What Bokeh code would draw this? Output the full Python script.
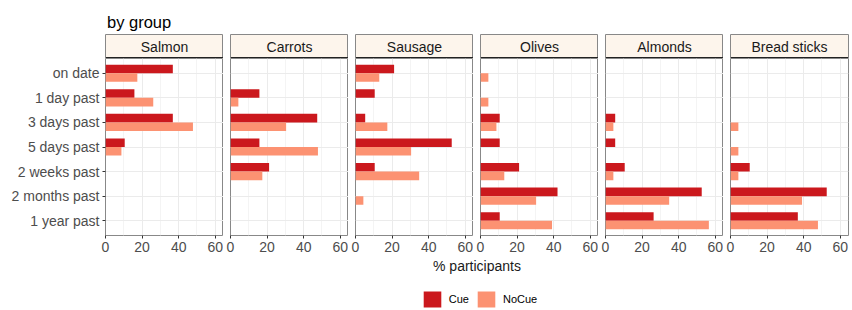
from bokeh.plotting import figure
from bokeh.models import (ColumnDataSource, Range1d, FactorRange, FixedTicker,
                          Span, Legend, LegendItem)
from bokeh.layouts import column, row
from bokeh.transform import dodge
from bokeh.core.properties import value
from bokeh.embed import file_html
from bokeh.resources import INLINE

# ---------------- data ----------------
title_text = "by group"
x_label = "% participants"
timings = ["on date", "1 day past", "3 days past", "5 days past",
           "2 weeks past", "2 months past", "1 year past"]
groups = ["Salmon", "Carrots", "Sausage", "Olives", "Almonds", "Bread sticks"]
series = ["Cue", "NoCue"]
x_ticks = [0, 20, 40, 60]
x_minor_ticks = [10, 30, 50]

salmon_cue = [36.8, 15.8, 36.8, 10.5, 0, 0, 0]
salmon_nocue = [17.4, 26.1, 47.8, 8.7, 0, 0, 0]
carrots_cue = [0, 15.8, 47.4, 15.8, 21.1, 0, 0]
carrots_nocue = [0, 4.3, 30.4, 47.8, 17.4, 0, 0]
sausage_cue = [21.1, 10.5, 5.3, 52.6, 10.5, 0, 0]
sausage_nocue = [13.0, 0, 17.4, 30.4, 34.8, 4.3, 0]
olives_cue = [0, 0, 10.5, 10.5, 21.1, 42.1, 10.5]
olives_nocue = [4.3, 4.3, 8.7, 0, 13.0, 30.4, 39.1]
almonds_cue = [0, 0, 5.3, 5.3, 10.5, 52.6, 26.3]
almonds_nocue = [0, 0, 4.3, 0, 4.3, 34.8, 56.5]
breadsticks_cue = [0, 0, 0, 0, 10.5, 52.6, 36.8]
breadsticks_nocue = [0, 0, 4.3, 4.3, 4.3, 39.1, 47.8]

cue_by_group = [salmon_cue, carrots_cue, sausage_cue, olives_cue,
                almonds_cue, breadsticks_cue]
nocue_by_group = [salmon_nocue, carrots_nocue, sausage_nocue, olives_nocue,
                  almonds_nocue, breadsticks_nocue]

# ---------------- style ----------------
FONT = "Liberation Sans"
CUE_COLOR = "#CB181D"
NOCUE_COLOR = "#FC9272"
STRIP_FILL = "#FDF5EC"
BORDER = "#888888"
GRID = "#EBEBEB"
MINOR_GRID = "#F4F4F4"
TICK_TEXT = "#4D4D4D"

PANEL_W = 118
PANEL_H = 177
STRIP_H = 24
X_MAX = 64.5
BAR_H = 0.35
FIRST_LEFT = 105
GAP = 7


def borders(i):
    left = FIRST_LEFT if i == 0 else GAP
    right = 1 if i == len(groups) - 1 else 0
    return left, right


def make_strip(i, name):
    left, right = borders(i)
    s = figure(frame_width=PANEL_W, frame_height=STRIP_H,
               x_range=Range1d(0, 1), y_range=Range1d(0, 1),
               x_axis_location=None, y_axis_location=None,
               min_border_left=left, min_border_right=right,
               min_border_top=0, min_border_bottom=0,
               output_backend="svg", toolbar_location=None)
    s.grid.visible = False
    s.background_fill_color = STRIP_FILL
    s.outline_line_color = BORDER
    s.outline_line_width = 1
    src = ColumnDataSource(dict(x=[0.5], y=[0.5], t=[name]))
    s.text(x="x", y="y", text="t", source=src, text_align="center",
           text_baseline="middle", text_font=value(FONT),
           text_font_size="14px", text_color="#1A1A1A")
    s.add_layout(Span(location=0.025, dimension="width",
                      line_color="black", line_width=1.3))
    return s


def make_panel(i, cue, nocue):
    left, right = borders(i)
    p = figure(frame_width=PANEL_W, frame_height=PANEL_H,
               x_range=Range1d(0, X_MAX),
               y_range=FactorRange(factors=list(reversed(timings)),
                                   range_padding=0.1,
                                   range_padding_units="absolute"),
               y_axis_location="left" if i == 0 else None,
               min_border_left=left, min_border_right=right,
               min_border_top=0, min_border_bottom=24,
               output_backend="svg", toolbar_location=None)
    src = ColumnDataSource(dict(t=timings, cue=cue, nocue=nocue))
    p.hbar(y=dodge("t", BAR_H / 2, range=p.y_range), left=0, right="cue",
           height=BAR_H, source=src, fill_color=CUE_COLOR, line_color=None)
    p.hbar(y=dodge("t", -BAR_H / 2, range=p.y_range), left=0, right="nocue",
           height=BAR_H, source=src, fill_color=NOCUE_COLOR, line_color=None)

    p.outline_line_color = BORDER
    p.outline_line_width = 1
    p.background_fill_color = "white"

    p.xaxis.ticker = FixedTicker(ticks=x_ticks, minor_ticks=x_minor_ticks)
    p.xaxis.axis_line_color = None
    p.xaxis.major_tick_in = 0
    p.xaxis.major_tick_out = 3
    p.xaxis.major_tick_line_color = "#333333"
    p.xaxis.minor_tick_line_color = None
    p.xaxis.major_label_standoff = 2
    p.xaxis.major_label_text_font = FONT
    p.xaxis.major_label_text_font_size = "14px"
    p.xaxis.major_label_text_color = TICK_TEXT

    p.xgrid.grid_line_color = GRID
    p.xgrid.minor_grid_line_color = MINOR_GRID
    p.ygrid.grid_line_color = GRID

    if i == 0:
        p.yaxis.axis_line_color = None
        p.yaxis.major_tick_in = 0
        p.yaxis.major_tick_out = 3
        p.yaxis.major_tick_line_color = "#333333"
        p.yaxis.minor_tick_line_color = None
        p.yaxis.major_label_standoff = 3
        p.yaxis.major_label_text_font = FONT
        p.yaxis.major_label_text_font_size = "14px"
        p.yaxis.major_label_text_color = TICK_TEXT
    return p


# ---------------- title ----------------
TOTAL_W = 850
TITLE_H = 34
tfig = figure(frame_width=TOTAL_W, frame_height=TITLE_H,
              x_range=Range1d(0, TOTAL_W), y_range=Range1d(0, TITLE_H),
              x_axis_location=None, y_axis_location=None,
              min_border_left=0, min_border_right=0,
              min_border_top=0, min_border_bottom=0,
              output_backend="svg", toolbar_location=None)
tfig.grid.visible = False
tfig.outline_line_color = None
tsrc = ColumnDataSource(dict(x=[106.5], y=[13], t=[title_text]))
tfig.text(x="x", y="y", text="t", source=tsrc, text_align="left",
          text_baseline="alphabetic", text_font=value(FONT),
          text_font_size="16.5px", text_color="black")

# ---------------- panels ----------------
cols = []
for i, g in enumerate(groups):
    cols.append(column(make_strip(i, g),
                       make_panel(i, cue_by_group[i], nocue_by_group[i])))
panels = row(*cols)

# ---------------- bottom: axis title + legend ----------------
BOT_H = 50
bfig = figure(frame_width=TOTAL_W, frame_height=BOT_H,
              x_range=Range1d(0, TOTAL_W), y_range=Range1d(0, BOT_H),
              x_axis_location=None, y_axis_location=None,
              min_border_left=0, min_border_right=0,
              min_border_top=0, min_border_bottom=0,
              output_backend="svg", toolbar_location=None)
bfig.grid.visible = False
bfig.outline_line_color = None
lsrc = ColumnDataSource(dict(x=[476.5], y=[44], t=[x_label]))
bfig.text(x="x", y="y", text="t", source=lsrc, text_align="center",
          text_baseline="middle", text_font=value(FONT),
          text_font_size="14px", text_color="#1A1A1A")

# zero-width placeholder bars: only their fill styles are shown in the legend
swatch = ColumnDataSource(dict(y=[0], right=[0]))
r_cue = bfig.hbar(y="y", left=0, right="right", height=0, source=swatch,
                  fill_color=CUE_COLOR, line_color=None)
r_nocue = bfig.hbar(y="y", left=0, right="right", height=0, source=swatch,
                    fill_color=NOCUE_COLOR, line_color=None)
legend = Legend(items=[LegendItem(label=series[0], renderers=[r_cue]),
                       LegendItem(label=series[1], renderers=[r_nocue])],
                location=(420.8, 0), orientation="horizontal",
                glyph_width=22, glyph_height=20, label_height=20,
                label_standoff=6, spacing=6, padding=0, margin=0,
                border_line_color=None, background_fill_alpha=0,
                label_text_font=FONT, label_text_font_size="11px",
                label_text_color="black")
bfig.add_layout(legend)

layout = column(tfig, panels, bfig)

open("out.html", "w").write(file_html(layout, INLINE))
